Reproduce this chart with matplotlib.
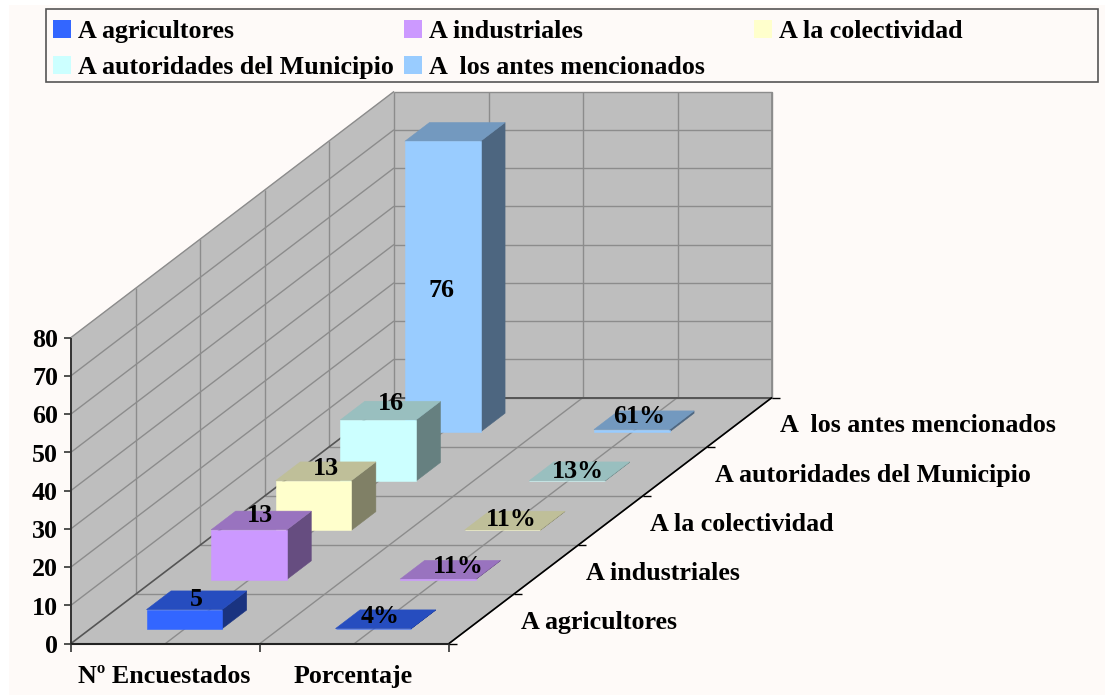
import matplotlib
matplotlib.use("Agg")
import matplotlib.pyplot as plt
from matplotlib.patches import Polygon, Rectangle

# data
categories = ["A agricultores", "A industriales", "A la colectividad",
              "A autoridades del Municipio", "A  los antes mencionados"]
groups = ["Nº Encuestados", "Porcentaje"]
encuestados = [5, 13, 13, 16, 76]
porcentaje = [0.04, 0.11, 0.11, 0.13, 0.61]
pct_labels = ["4%", "11%", "11%", "13%", "61%"]
colors = ["#3366FF", "#CC99FF", "#FFFFCC", "#CCFFFF", "#99CCFF"]
y_ticks = [0, 10, 20, 30, 40, 50, 60, 70, 80]

# oblique projection, all in pixels of the picture
X0, Y0 = 71, 643.5
COL_W = 189
DEPTH_DX, DEPTH_DY = 64.6, -49.2
UNIT = 3.825
WALL = "#BEBEBE"
GRID = "#8C8C8C"
FONT = "Liberation Serif"
FS = 18.7


def proj(c, d, v=0):
    return X0 + COL_W * c + DEPTH_DX * d, Y0 + DEPTH_DY * d - UNIT * v


def shade(hex_color, f):
    r, g, b = matplotlib.colors.to_rgb(hex_color)
    return (r * f, g * f, b * f)


def face(ax, pts, color, z):
    ax.add_patch(Polygon(pts, closed=True, fc=color, ec=color, lw=0.4, zorder=z))


def line(ax, a, b, color=GRID, lw=1.0, z=2):
    ax.plot([a[0], b[0]], [a[1], b[1]], color=color, lw=lw, zorder=z, solid_capstyle="butt")


def bar(ax, c, d, v, color, z):
    c0, c1 = c + 0.297, c + 0.697
    d0, d1 = d + 0.3, d + 0.68
    # side, top, then front
    face(ax, [proj(c1, d0, 0), proj(c1, d1, 0), proj(c1, d1, v), proj(c1, d0, v)], shade(color, 0.5), z)
    face(ax, [proj(c0, d0, v), proj(c1, d0, v), proj(c1, d1, v), proj(c0, d1, v)], shade(color, 0.75), z)
    face(ax, [proj(c0, d0, 0), proj(c1, d0, 0), proj(c1, d0, v), proj(c0, d0, v)], color, z)


def label(ax, x, y, s, ha="center"):
    # y is the middle of the capitals, so descenders don't move the text
    ax.text(x, y + 9.3, s, ha=ha, va="baseline", family=FONT, fontsize=FS, fontweight="bold",
            color="black", zorder=30)


fig = plt.figure(figsize=(11.05, 6.97), dpi=100, facecolor="white")
ax = fig.add_axes([0, 0, 1, 1])
ax.set_xlim(0, 1105)
ax.set_ylim(697, 0)
ax.axis("off")
ax.add_patch(Rectangle((9, 5), 1096, 690, fc="#FEFAF8", ec="none", zorder=0))

n = len(categories)
top = y_ticks[-1]
nc = len(groups)

# walls and floor
face(ax, [proj(0, 0), proj(0, n), proj(0, n, top), proj(0, 0, top)], WALL, 1)
face(ax, [proj(0, n), proj(nc, n), proj(nc, n, top), proj(0, n, top)], WALL, 1)
face(ax, [proj(0, 0), proj(nc, 0), proj(nc, n), proj(0, n)], WALL, 1)

# grid
for t in y_ticks[1:]:
    line(ax, proj(0, 0, t), proj(0, n, t))
    line(ax, proj(0, n, t), proj(nc, n, t))
for i in range(1, n + 1):
    line(ax, proj(0, i), proj(0, i, top))
    line(ax, proj(0, i), proj(nc, i))
for k in range(1, 2 * nc + 1):
    c = k / 2
    line(ax, proj(c, 0), proj(c, n))
    line(ax, proj(c, n), proj(c, n, top))
line(ax, proj(nc, n, 0), proj(nc, n, top), lw=1.3)

# axes
line(ax, proj(0, 0), proj(0, n), color="#555555", lw=1.2, z=3)
line(ax, proj(0, n), proj(nc, n), color="#555555", lw=1.4, z=3)
line(ax, proj(0, 0), proj(0, 0, top), color="#333333", lw=1.4, z=20)
line(ax, proj(0, 0), proj(nc, 0), color="#222222", lw=1.5, z=20)
line(ax, proj(nc, 0), proj(nc, n), color="black", lw=1.2, z=20)
for t in y_ticks:
    x, y = proj(0, 0, t)
    line(ax, (x - 7, y), (x, y), color="#333333", lw=1.2, z=20)
    label(ax, x - 13, y, str(t), ha="right")
for k in range(nc + 1):
    x, y = proj(k, 0)
    line(ax, (x, y), (x, y + 8), color="#333333", lw=1.2, z=20)
for i in range(n + 1):
    x, y = proj(nc, i)
    line(ax, (x, y), (x + 8, y), color="black", lw=1.0, z=20)

# bars, back row first
for i in range(n - 1, -1, -1):
    z = 10 + (n - i)
    bar(ax, 0, i, encuestados[i], colors[i], z)
    bar(ax, 1, i, porcentaje[i], colors[i], z)

# value labels, shifted by hand like in the original
enc_shift = [(-1, -3.3), (-2, -7.5), (0, -6), (0, -9.6), (-2, 1)]
pct_shift = [(-5.7, -5.6), (8, -6), (-4.5, -4), (-2, -3), (-5.6, -6.6)]
for i in range(n):
    if encuestados[i] > 50:
        x, y = proj(0.5, i + 0.3, encuestados[i] / 2)
    else:
        x, y = proj(0.5, i + 0.49, encuestados[i])
    label(ax, x + enc_shift[i][0], y + enc_shift[i][1], str(encuestados[i]))
    x, y = proj(1.5, i + 0.49, porcentaje[i])
    label(ax, x + pct_shift[i][0], y + pct_shift[i][1], pct_labels[i])

# category and group labels
for i, name in enumerate(categories):
    x, y = proj(nc, i + 0.5)
    label(ax, x + 40, y + 1, name, ha="left")
for k, name in enumerate(groups):
    x, y = proj(k + 0.5, 0)
    label(ax, x - 1, y + 30, name)

# legend box
ax.add_patch(Rectangle((45.5, 9), 1052, 73, fc="#FEFAF8", ec="#555555", lw=1.2, zorder=25))
legend_x = [53, 404, 754]
legend_y = [29, 65]
for i, name in enumerate(categories):
    col, row = i % 3, i // 3
    ax.add_patch(Rectangle((legend_x[col], legend_y[row] - 9), 18, 18, fc=colors[i], ec="none", zorder=26))
    label(ax, legend_x[col] + 25, legend_y[row], name, ha="left")

fig.savefig("out.png", dpi=100, facecolor=fig.get_facecolor())
